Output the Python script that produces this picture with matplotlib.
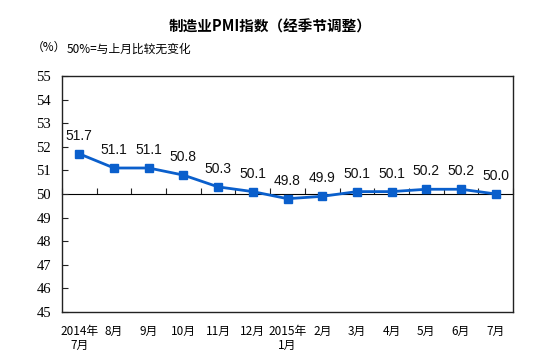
import numpy as np
import matplotlib
matplotlib.use('Agg')
import matplotlib.pyplot as plt

plt.rcParams['font.family'] = ['Noto Sans CJK SC', 'DejaVu Sans']

months = ['2014年\n7月', '8月', '9月', '10月', '11月', '12月', '2015年\n1月',
          '2月', '3月', '4月', '5月', '6月', '7月']
pmi = [51.7, 51.1, 51.1, 50.8, 50.3, 50.1, 49.8, 49.9, 50.1, 50.1, 50.2, 50.2, 50.0]
yticks = [45, 46, 47, 48, 49, 50, 51, 52, 53, 54, 55]

fig = plt.figure(figsize=(5.53, 3.55), dpi=100)
ax = fig.add_axes([0.1121, 0.1211, 0.8156, 0.665])

x = np.arange(len(months))
ax.plot(x, pmi, color='#0a5fcc', lw=2, marker='s', ms=6, zorder=3)
for xi, v in zip(x, pmi):
    ax.annotate(f'{v:.1f}', (xi, v), xytext=(0, 13), textcoords='offset points',
                ha='center', va='center', fontsize=10, family='Liberation Sans',
                color='#111111')

ax.set_xlim(-0.5, len(months) - 0.5)
ax.set_ylim(45, 55)
ax.set_yticks(yticks)
ax.set_yticklabels([str(t) for t in yticks], family='Liberation Serif', fontsize=10.5)
ax.tick_params(axis='y', direction='in', length=4, pad=8, color='#222222')

ax.set_xticks(x)
ax.set_xticklabels(months, fontsize=8.5, linespacing=1.1)
ax.tick_params(axis='x', length=0, pad=9)
for s in ax.spines.values():
    s.set_color('#222222')
    s.set_linewidth(1.0)

# category axis crossing at 50
sec = ax.secondary_xaxis(0.5)
sec.set_xticks(np.arange(len(months) + 1) - 0.5)
sec.set_xticklabels([])
sec.tick_params(direction='out', length=4, color='#222222')
sec.spines['bottom'].set_color('#222222')
sec.spines['bottom'].set_linewidth(1.0)

fig.text(0.488, 0.925, '制造业PMI指数（经季节调整）', ha='center', va='center',
         fontsize=10.5, fontweight='bold')
fig.text(0.058, 0.867, '（%）', ha='left', va='center', fontsize=8.5)
fig.text(0.121, 0.86, '50%=与上月比较无变化', ha='left', va='center', fontsize=8.5)

fig.savefig('out.png', dpi=100)
